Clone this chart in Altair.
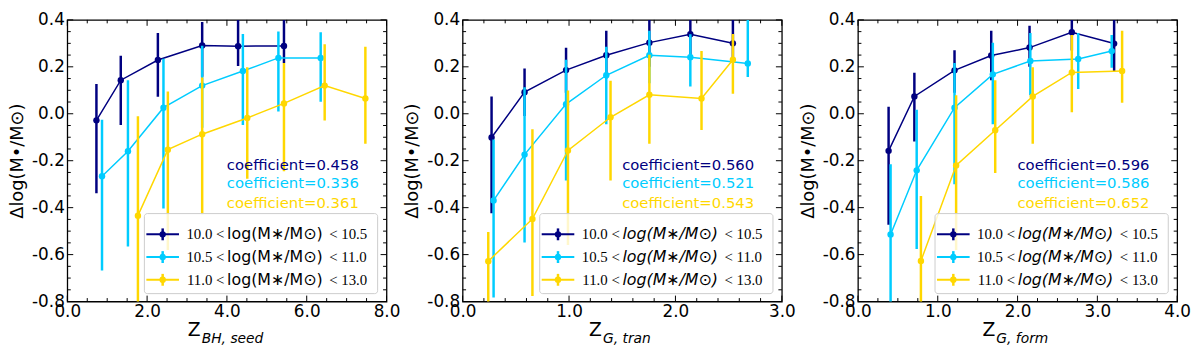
import altair as alt
import pandas as pd

W, H = 323, 285
KY = H / 291.0

COLORS = ["#000080", "#00CCFF", "#FFD700"]
LEG_LEFT = ["10.0 <", "10.5 <", "11.0 <"]
LEG_RIGHT = ["< 10.5", "< 11.0", "< 13.0"]
LEG_MID = "log(M\u2217/M\u2299)"
YTITLE = "\u0394log(M\u2022/M\u2299)"

# ---------------- panel 1 : Z_BH,seed ----------------
p1_x = [[0.73, 1.34, 2.27, 3.38, 4.28, 5.43],
        [0.87, 1.52, 2.41, 3.38, 4.40, 5.29, 6.35],
        [1.77, 2.52, 3.38, 4.51, 5.43, 6.45, 7.47]]
p1_y = [[-0.028, 0.143, 0.229, 0.291, 0.288, 0.289],
        [-0.266, -0.160, 0.026, 0.120, 0.182, 0.238, 0.238],
        [-0.434, -0.153, -0.087, -0.018, 0.044, 0.120, 0.065]]
p1_lo = [[-0.339, -0.048, 0.072, 0.158, 0.203, 0.216],
         [-0.668, -0.566, -0.404, -0.06, -0.048, 0.010, 0.051],
         [-0.85, -0.58, -0.428, -0.277, -0.245, -0.029, -0.128]]
p1_hi = [[0.127, 0.247, 0.344, 0.391, 0.45, 0.45],
         [-0.025, 0.143, 0.234, 0.290, 0.340, 0.350, 0.347],
         [-0.011, 0.095, 0.154, 0.198, 0.216, 0.296, 0.285]]
p1_coef = ["coefficient=0.458", "coefficient=0.336", "coefficient=0.361"]

# ---------------- panel 2 : Z_G,tran ----------------
p2_x = [[0.272, 0.582, 0.972, 1.35, 1.755, 2.14, 2.54],
        [0.291, 0.582, 0.972, 1.35, 1.755, 2.14, 2.68],
        [0.241, 0.656, 0.99, 1.39, 1.755, 2.245, 2.54]]
p2_y = [[-0.101, 0.092, 0.186, 0.249, 0.303, 0.339, 0.300],
        [-0.369, -0.174, 0.041, 0.164, 0.249, 0.241, 0.214],
        [-0.628, -0.448, -0.156, -0.015, 0.081, 0.065, 0.230]]
p2_lo = [[-0.424, -0.01, 0.09, 0.15, 0.20, 0.25, 0.22],
         [-0.783, -0.548, -0.284, -0.045, 0.13, 0.116, 0.157],
         [-0.85, -0.776, -0.559, -0.284, -0.128, -0.069, 0.085]]
p2_hi = [[0.074, 0.193, 0.281, 0.354, 0.45, 0.45, 0.45],
         [-0.11, 0.113, 0.230, 0.285, 0.354, 0.339, 0.45],
         [-0.504, -0.066, 0.099, 0.141, 0.251, 0.267, 0.340]]
p2_coef = ["coefficient=0.560", "coefficient=0.521", "coefficient=0.543"]

# ---------------- panel 3 : Z_G,form ----------------
p3_x = [[0.384, 0.707, 1.21, 1.67, 2.15, 2.68, 3.21],
        [0.409, 0.736, 1.21, 1.69, 2.16, 2.76, 3.18],
        [0.789, 1.23, 1.72, 2.19, 2.68, 3.31]]
p3_y = [[-0.158, 0.074, 0.185, 0.248, 0.282, 0.347, 0.299],
        [-0.514, -0.241, 0.026, 0.168, 0.225, 0.233, 0.267],
        [-0.627, -0.220, -0.070, 0.074, 0.176, 0.182]]
p3_lo = [[-0.473, -0.118, 0.09, 0.143, 0.20, 0.27, 0.182],
         [-0.85, -0.576, -0.300, -0.045, 0.079, 0.106, 0.196],
         [-0.85, -0.58, -0.252, -0.128, 0.006, 0.047]]
p3_hi = [[0.030, 0.175, 0.271, 0.354, 0.375, 0.45, 0.45],
         [-0.215, 0.017, 0.216, 0.303, 0.344, 0.344, 0.336],
         [-0.35, 0.079, 0.143, 0.198, 0.336, 0.354]]
p3_coef = ["coefficient=0.596", "coefficient=0.586", "coefficient=0.652"]

# ---------------- axes ----------------
X_MAX = [8.0, 3.0, 4.0]
X_MAJOR = [[0.0, 2.0, 4.0, 6.0, 8.0], [0.0, 1.0, 2.0, 3.0], [0.0, 1.0, 2.0, 3.0, 4.0]]
X_MINOR_STEP = [0.5, 0.2, 0.25]
Y_MAJOR = [-0.8, -0.6, -0.4, -0.2, 0.0, 0.2, 0.4]
Y_MINOR_STEP = 0.05
X_SUB = ["BH, seed", "G, tran", "G, form"]
Z_SHIFT = [26.5, 20.5, 22.5]

PANELS = [
    (p1_x, p1_y, p1_lo, p1_hi, p1_coef),
    (p2_x, p2_y, p2_lo, p2_hi, p2_coef),
    (p3_x, p3_y, p3_lo, p3_hi, p3_coef),
]

LABEL_EXPR = "datum.value < 0 ? '-' + format(-datum.value, '.1f') : format(datum.value, '.1f')"


def minor_ticks(vmin, vmax, step, majors):
    n = int(round((vmax - vmin) / step))
    vals = [round(vmin + k * step, 4) for k in range(n + 1)]
    return [v for v in vals if all(abs(v - m) > 1e-6 for m in majors)]


def one_row():
    return pd.DataFrame({"a": [0]})


def build_panel(i):
    xs_, ys_, los, his, coefs = PANELS[i]
    xsc = alt.Scale(domain=[0, X_MAX[i]], nice=False, zero=False)
    ysc = alt.Scale(domain=[-0.8, 0.4], nice=False, zero=False)
    common = dict(ticks=False, tickSize=0, domain=False, grid=False,
                  labelFont="DejaVu Sans", labelFontSize=17, labelColor="black",
                  labelExpr=LABEL_EXPR, labelOverlap=False)
    xaxis = alt.Axis(values=X_MAJOR[i], title=None, labelFlush=False, labelPadding=2, **common)
    yaxis = alt.Axis(values=Y_MAJOR, title=YTITLE, labelPadding=3,
                     titleFont="DejaVu Sans", titleFontSize=18, titleFontWeight="normal",
                     titleColor="black", titlePadding=5, **common)

    def X(f):
        return alt.X(f, scale=xsc, axis=xaxis)

    def Y(f):
        return alt.Y(f, scale=ysc, axis=yaxis)

    layers = []
    for s in range(3):
        df = pd.DataFrame({"x": xs_[s], "y": ys_[s], "lo": los[s], "hi": his[s]})
        base = alt.Chart(df)
        layers.append(base.mark_rule(clip=True, strokeWidth=2.5, color=COLORS[s]).encode(
            x=X("x:Q"), y=Y("lo:Q"), y2="hi:Q"))
        layers.append(base.mark_line(clip=True, strokeWidth=1.5, color=COLORS[s]).encode(
            x=X("x:Q"), y=Y("y:Q")))
        layers.append(base.mark_circle(size=42, opacity=1, color=COLORS[s]).encode(
            x=X("x:Q"), y=Y("y:Q")))

    # inward ticks on all four sides
    xmin_ = minor_ticks(0, X_MAX[i], X_MINOR_STEP[i], X_MAJOR[i])
    ymin_ = minor_ticks(-0.8, 0.4, Y_MINOR_STEP, Y_MAJOR)
    for vals, ln in [(X_MAJOR[i], 6), (xmin_, 3.5)]:
        d = pd.DataFrame({"x": vals})
        for y0, y1 in [(H, H - ln), (0, ln)]:
            layers.append(alt.Chart(d).mark_rule(color="black", strokeWidth=1).encode(
                x=X("x:Q"), y=alt.value(y0), y2=alt.value(y1)))
    for vals, ln in [(Y_MAJOR, 6), (ymin_, 3.5)]:
        d = pd.DataFrame({"y": vals})
        for x0, x1 in [(0, ln), (W, W - ln)]:
            layers.append(alt.Chart(d).mark_rule(color="black", strokeWidth=1).encode(
                y=Y("y:Q"), x=alt.value(x0), x2=alt.value(x1)))

    # legend box
    layers.append(alt.Chart(one_row()).mark_rect(
        fill="white", fillOpacity=0.8, stroke="#cccccc", strokeWidth=1, cornerRadius=3).encode(
        x=alt.value(78), x2=alt.value(314), y=alt.value(H - 89), y2=alt.value(H - 8)))
    for r in range(3):
        yc = H - 68 + 23 * r
        c = COLORS[r]
        layers.append(alt.Chart(one_row()).mark_rule(color=c, strokeWidth=2).encode(
            x=alt.value(80), x2=alt.value(113), y=alt.value(yc)))
        layers.append(alt.Chart(one_row()).mark_rule(color=c, strokeWidth=2.5).encode(
            x=alt.value(96.5), y=alt.value(yc - 6), y2=alt.value(yc + 6)))
        layers.append(alt.Chart(one_row()).mark_circle(color=c, size=42, opacity=1).encode(
            x=alt.value(96.5), y=alt.value(yc)))
        layers.append(alt.Chart(one_row()).mark_text(
            align="right", baseline="alphabetic", font="Liberation Serif", fontSize=15,
            color="black").encode(x=alt.value(159), y=alt.value(yc + 5), text=alt.value(LEG_LEFT[r])))
        layers.append(alt.Chart(one_row()).mark_text(
            align="center", baseline="alphabetic", font="DejaVu Sans", fontSize=16,
            fontStyle="italic" if i > 0 else "normal",
            color="black").encode(x=alt.value(210), y=alt.value(yc + 5), text=alt.value(LEG_MID)))
        layers.append(alt.Chart(one_row()).mark_text(
            align="left", baseline="alphabetic", font="Liberation Serif", fontSize=15,
            color="black").encode(x=alt.value(265), y=alt.value(yc + 5), text=alt.value(LEG_RIGHT[r])))

    # coefficient annotations
    for r, yb in enumerate([155, 174, 194]):
        layers.append(alt.Chart(one_row()).mark_text(
            align="right", baseline="alphabetic", font="DejaVu Sans", fontSize=15,
            color=COLORS[r]).encode(x=alt.value(295), y=alt.value(yb * KY), text=alt.value(coefs[r])))

    # x-axis title with subscript
    zx = W / 2 - Z_SHIFT[i]
    layers.append(alt.Chart(one_row()).mark_text(
        align="right", baseline="alphabetic", font="DejaVu Sans", fontSize=19,
        color="black").encode(x=alt.value(zx), y=alt.value(H + 35), text=alt.value("Z")))
    layers.append(alt.Chart(one_row()).mark_text(
        align="left", baseline="alphabetic", font="DejaVu Sans", fontSize=14, fontStyle="italic",
        color="black").encode(x=alt.value(zx + 1), y=alt.value(H + 42), text=alt.value(X_SUB[i])))

    return alt.layer(*layers).properties(width=W, height=H)


chart = alt.hconcat(build_panel(0), build_panel(1), build_panel(2), spacing=2).configure_view(
    stroke="black", strokeWidth=1.3).properties(padding={"left": 0, "top": 0, "right": 0, "bottom": 0},
                                                 background="white")

chart.save("out.html", embed_options={"renderer": "svg", "actions": False})
